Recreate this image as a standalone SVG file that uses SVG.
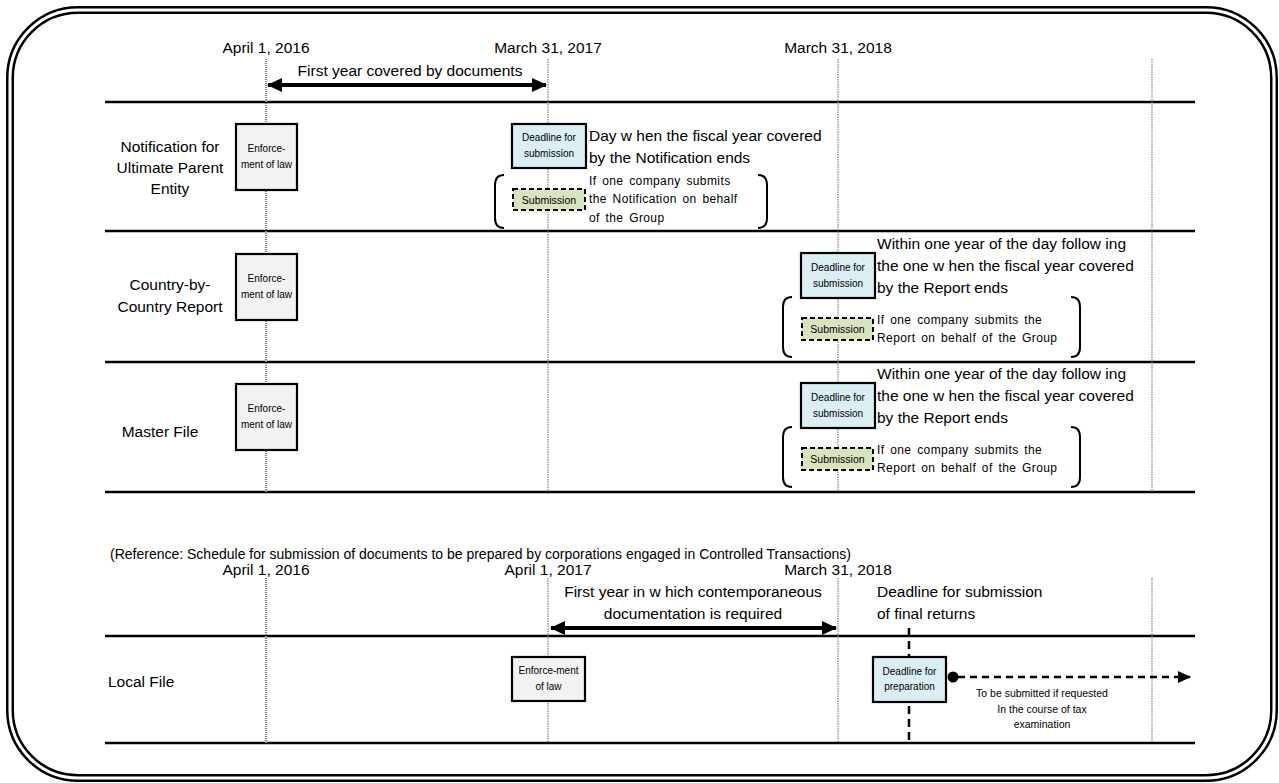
<svg xmlns="http://www.w3.org/2000/svg" width="1279" height="783" viewBox="0 0 1279 783">
<style>
text{font-family:"Liberation Sans",Arial,sans-serif;fill:#000}
.lbl{font-size:15.5px}
.mid{text-anchor:middle}
.sm{font-size:12px;letter-spacing:0.4px;word-spacing:2px}
.bx{font-size:10px;text-anchor:middle}
.rule{stroke:#000;stroke-width:2.5;fill:none}
.vd{stroke:#808080;stroke-width:1.2;stroke-dasharray:1.5 1;fill:none}
.vd2{stroke:#808080;stroke-width:2.2;stroke-dasharray:1 1;fill:none}
.enf{fill:#f2f2f2;stroke:#000;stroke-width:2.2}
.dl{fill:#dbeef4;stroke:#000;stroke-width:2.2}
.sub{fill:#d7e4bd;stroke:#000;stroke-width:2;stroke-dasharray:5 3}
.br{fill:none;stroke:#000;stroke-width:2}
.dbl{stroke:#000;stroke-width:4;fill:none}
.note{font-size:10.5px;text-anchor:middle}
</style>
<defs>
<marker id="ah" markerUnits="userSpaceOnUse" markerWidth="16" markerHeight="16" refX="14" refY="8" orient="auto-start-reverse">
<path d="M0,1 L15,8 L0,15 Z" fill="#000"/>
</marker>
<marker id="ah2" markerUnits="userSpaceOnUse" markerWidth="14" markerHeight="14" refX="12" refY="7" orient="auto">
<path d="M0,1 L13,7 L0,13 Z" fill="#000"/>
</marker>
</defs>
<g id="frame">
<rect x="10" y="10" width="1264" height="768" rx="68" fill="#fff" stroke="#000" stroke-width="8"/>
<rect x="10" y="10" width="1264" height="768" rx="68" fill="none" stroke="#fff" stroke-width="3"/>
</g>
<g id="rules">
<line class="rule" x1="105" y1="102" x2="1195" y2="102"/>
<line class="rule" x1="105" y1="231" x2="1195" y2="231"/>
<line class="rule" x1="105" y1="362" x2="1195" y2="362"/>
<line class="rule" x1="105" y1="492" x2="1195" y2="492"/>
<line class="rule" x1="105" y1="636" x2="1195" y2="636"/>
<line class="rule" x1="105" y1="743" x2="1195" y2="743"/>
</g>
<g id="connectors">
<line class="vd2" x1="266" y1="59" x2="266" y2="492"/>
<line class="vd" x1="548" y1="59" x2="548" y2="492"/>
<line class="vd" x1="838" y1="59" x2="838" y2="492"/>
<line class="vd" x1="1152" y1="59" x2="1152" y2="492"/>
<line class="vd2" x1="266" y1="578" x2="266" y2="743"/>
<line class="vd" x1="548" y1="578" x2="548" y2="743"/>
<line class="vd" x1="838" y1="578" x2="838" y2="743"/>
<line class="vd" x1="1152" y1="578" x2="1152" y2="743"/>
<line x1="909" y1="628" x2="909" y2="742" stroke="#000" stroke-width="2.5" stroke-dasharray="8 5"/>
<line class="dbl" x1="268" y1="85" x2="546" y2="85" marker-start="url(#ah)" marker-end="url(#ah)"/>
<line class="dbl" x1="551" y1="628" x2="836" y2="628" marker-start="url(#ah)" marker-end="url(#ah)"/>
<circle cx="953" cy="677" r="5.5" fill="#000"/>
<line x1="958" y1="677" x2="1190" y2="677" stroke="#000" stroke-width="2.5" stroke-dasharray="7 5" marker-end="url(#ah2)"/>
</g>
<g id="headers">
<text class="lbl mid" x="266" y="53">April 1, 2016</text>
<text class="lbl mid" x="548" y="53">March 31, 2017</text>
<text class="lbl mid" x="838" y="53">March 31, 2018</text>
<text class="lbl mid" x="410" y="76">First year covered by documents</text>
<text x="110" y="559" style="font-size:14px">(Reference: Schedule for submission of documents to be prepared by corporations engaged in Controlled Transactions)</text>
<text class="lbl mid" x="266" y="575">April 1, 2016</text>
<text class="lbl mid" x="548" y="575">April 1, 2017</text>
<text class="lbl mid" x="838" y="575">March 31, 2018</text>
<text class="lbl mid" x="693" y="597">First year in w hich contemporaneous</text>
<text class="lbl mid" x="693" y="619">documentation is required</text>
<text class="lbl" x="877" y="597">Deadline for submission</text>
<text class="lbl" x="877" y="619">of final returns</text>
</g>
<g id="row-notification">
<text class="lbl mid" x="170" y="152">Notification for</text>
<text class="lbl mid" x="170" y="173">Ultimate Parent</text>
<text class="lbl mid" x="170" y="194">Entity</text>
<rect class="enf" x="236" y="124" width="61" height="66"/>
<text class="bx" x="266.5" y="152">Enforce-</text>
<text class="bx" x="266.5" y="168">ment of law</text>
<rect class="dl" x="512" y="124" width="74" height="44"/>
<text class="bx" x="549" y="141">Deadline for</text>
<text class="bx" x="549" y="157">submission</text>
<text class="lbl" x="589" y="141">Day w hen the fiscal year covered</text>
<text class="lbl" x="589" y="163">by the Notification ends</text>
<path class="br" d="M504,175 Q495,175 495,185 L495,218 Q495,228 504,228"/>
<path class="br" d="M758,175 Q767,175 767,185 L767,218 Q767,228 758,228"/>
<rect class="sub" x="513" y="189" width="72" height="21"/>
<text class="mid" x="549" y="203.5" style="font-size:10.5px">Submission</text>
<text class="sm" x="589" y="185">If one company submits</text>
<text class="sm" x="589" y="203">the Notification on behalf</text>
<text class="sm" x="589" y="222">of the Group</text>
</g>
<g id="row-cbcr">
<text class="lbl mid" x="170" y="290">Country-by-</text>
<text class="lbl mid" x="170" y="312">Country Report</text>
<rect class="enf" x="236" y="254" width="61" height="66"/>
<text class="bx" x="266.5" y="282">Enforce-</text>
<text class="bx" x="266.5" y="298">ment of law</text>
<rect class="dl" x="801" y="253" width="74" height="45"/>
<text class="bx" x="838" y="271">Deadline for</text>
<text class="bx" x="838" y="287">submission</text>
<text class="lbl" x="877" y="249">Within one year of the day follow ing</text>
<text class="lbl" x="877" y="271">the one w hen the fiscal year covered</text>
<text class="lbl" x="877" y="293">by the Report ends</text>
<path class="br" d="M792,297 Q783,297 783,307 L783,347 Q783,357 792,357"/>
<path class="br" d="M1071,297 Q1080,297 1080,307 L1080,347 Q1080,357 1071,357"/>
<rect class="sub" x="802" y="318" width="71" height="22"/>
<text class="mid" x="837.5" y="333" style="font-size:10.5px">Submission</text>
<text class="sm" x="877" y="324">If one company submits the</text>
<text class="sm" x="877" y="342">Report on behalf of the Group</text>
</g>
<g id="row-master">
<text class="lbl mid" x="160" y="437">Master File</text>
<rect class="enf" x="236" y="384" width="61" height="66"/>
<text class="bx" x="266.5" y="412">Enforce-</text>
<text class="bx" x="266.5" y="428">ment of law</text>
<rect class="dl" x="801" y="383" width="74" height="45"/>
<text class="bx" x="838" y="401">Deadline for</text>
<text class="bx" x="838" y="417">submission</text>
<text class="lbl" x="877" y="379">Within one year of the day follow ing</text>
<text class="lbl" x="877" y="401">the one w hen the fiscal year covered</text>
<text class="lbl" x="877" y="423">by the Report ends</text>
<path class="br" d="M792,427 Q783,427 783,437 L783,477 Q783,487 792,487"/>
<path class="br" d="M1071,427 Q1080,427 1080,437 L1080,477 Q1080,487 1071,487"/>
<rect class="sub" x="802" y="448" width="71" height="22"/>
<text class="mid" x="837.5" y="463" style="font-size:10.5px">Submission</text>
<text class="sm" x="877" y="454">If one company submits the</text>
<text class="sm" x="877" y="472">Report on behalf of the Group</text>
</g>
<g id="row-local">
<text class="lbl" x="108" y="687">Local File</text>
<rect class="enf" x="512" y="657" width="73" height="44"/>
<text class="bx" x="548.5" y="674">Enforce-ment</text>
<text class="bx" x="548.5" y="690">of law</text>
<rect class="dl" x="873" y="657" width="73" height="45"/>
<text class="bx" x="909.5" y="675">Deadline for</text>
<text class="bx" x="909.5" y="690">preparation</text>
<text class="note" x="1042" y="697">To be submitted if requested</text>
<text class="note" x="1042" y="713">In the course of tax</text>
<text class="note" x="1042" y="728">examination</text>
</g>
</svg>
